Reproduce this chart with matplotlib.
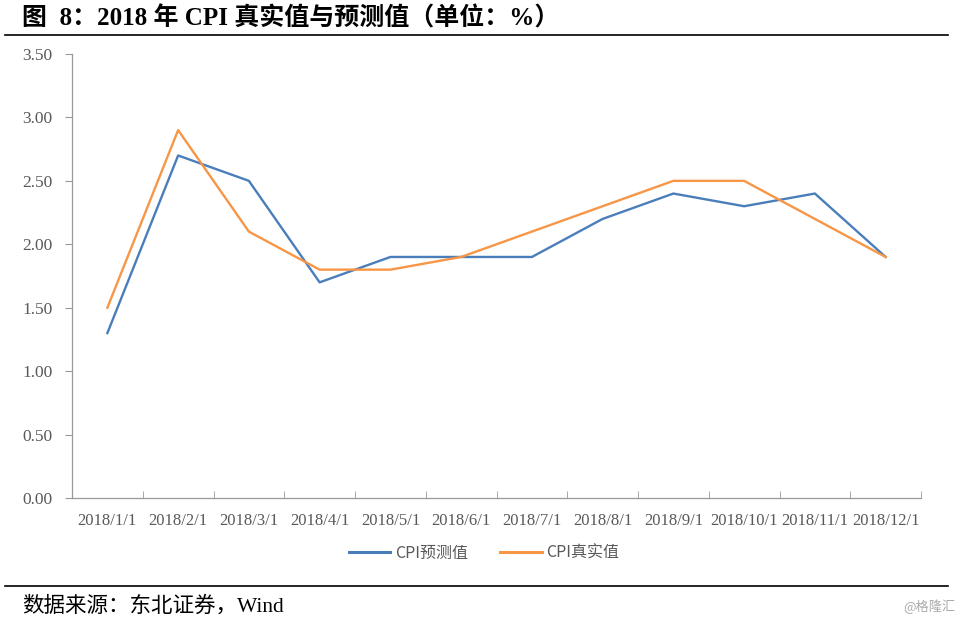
import matplotlib
matplotlib.use("Agg")
import matplotlib.pyplot as plt
from matplotlib.lines import Line2D
import numpy as np

plt.rcParams["font.family"] = ["Liberation Serif", "Noto Sans CJK SC", "DejaVu Sans"]

months = ["2018/1/1", "2018/2/1", "2018/3/1", "2018/4/1", "2018/5/1", "2018/6/1",
          "2018/7/1", "2018/8/1", "2018/9/1", "2018/10/1", "2018/11/1", "2018/12/1"]
cpi_forecast = [1.3, 2.7, 2.5, 1.7, 1.9, 1.9, 1.9, 2.2, 2.4, 2.3, 2.4, 1.9]
cpi_actual = [1.5, 2.9, 2.1, 1.8, 1.8, 1.9, 2.1, 2.3, 2.5, 2.5, 2.2, 1.9]
yticks = [0.0, 0.5, 1.0, 1.5, 2.0, 2.5, 3.0, 3.5]

blue = "#4a7ebb"
orange = "#f79646"
grey = "#595959"
axis_grey = "#999999"

fig = plt.figure(figsize=(9.61, 6.22), dpi=100)
ax = fig.add_axes([72 / 961, 1 - 498 / 622, (921 - 72) / 961, (498 - 54) / 622])

x = np.arange(len(months))
ax.plot(x, cpi_forecast, color=blue, lw=1.7, label="CPI预测值")
ax.plot(x, cpi_actual, color=orange, lw=1.7, label="CPI真实值")

ax.set_xlim(-0.5, len(months) - 0.5)
ax.set_ylim(0, 3.5)
ax.set_yticks(yticks)
ax.set_yticklabels([f"{v:.2f}" for v in yticks], fontsize=12.5, color=grey)
ax.set_xticks(x)
ax.set_xticklabels(months, fontsize=12, color=grey)
ax.tick_params(axis="x", length=0, pad=11)
ax.set_xticks(np.arange(-0.5, len(months)), minor=True)
ax.tick_params(axis="x", which="minor", direction="in", length=5, color=axis_grey)
ax.tick_params(axis="y", direction="out", length=5, color=axis_grey, pad=9)

for side in ["top", "right"]:
    ax.spines[side].set_visible(False)
for side in ["left", "bottom"]:
    ax.spines[side].set_color(axis_grey)
    ax.spines[side].set_linewidth(0.9)

handles = [Line2D([], [], color=blue, lw=2.2), Line2D([], [], color=orange, lw=2.2)]
fig.legend(handles, ["CPI预测值", "CPI真实值"], loc="center", bbox_to_anchor=(484 / 961, 1 - 553 / 622),
           ncol=2, frameon=False, handlelength=2.6, handletextpad=0.3, columnspacing=2.0,
           labelcolor=grey, prop={"family": ["Noto Sans CJK SC"], "size": 11.5})

fig.text(22 / 961, 1 - 18 / 622, "图  8：2018 年 CPI 真实值与预测值（单位：%）",
         fontsize=18, fontweight="bold", ha="left", va="center")
fig.add_artist(Line2D([5 / 961, 948 / 961], [1 - 35 / 622, 1 - 35 / 622], color="black", lw=1.2))
fig.add_artist(Line2D([5 / 961, 948 / 961], [1 - 586 / 622, 1 - 586 / 622], color="black", lw=1.2))
fig.text(22 / 961, 1 - 606 / 622, "数据来源：东北证券，Wind", fontsize=15.5, ha="left", va="center")
fig.text(955 / 961, 1 - 607 / 622, "@格隆汇", fontsize=9.5, color="#aaaaaa", ha="right", va="center",
         family=["Noto Sans CJK SC"])

fig.savefig("out.png", dpi=100)
